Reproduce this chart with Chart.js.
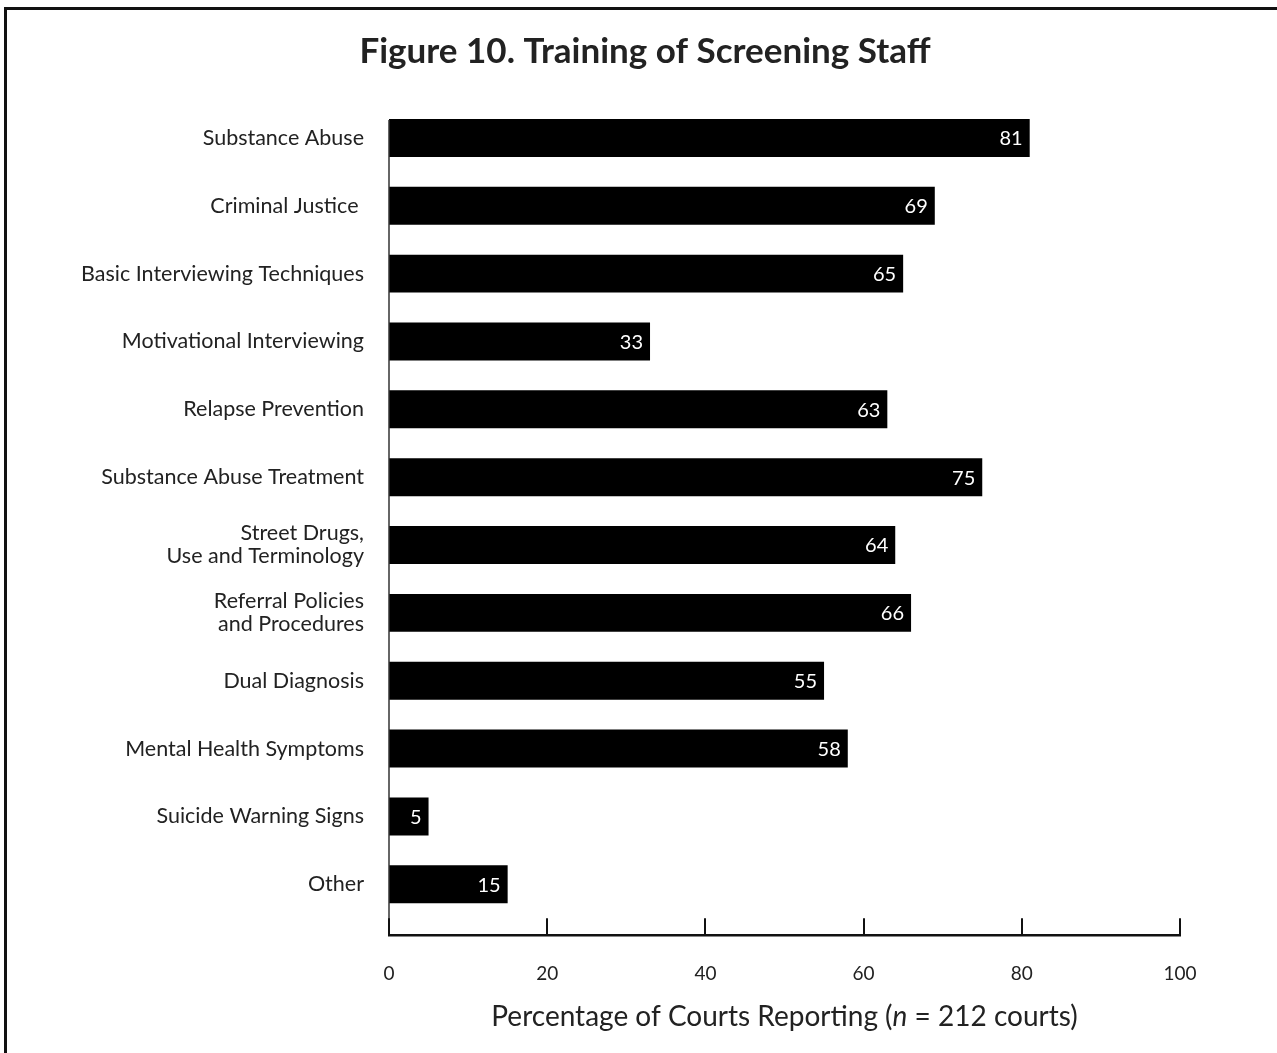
<!DOCTYPE html>
<html>
<head>
<meta charset="utf-8">
<script src="https://cdn.jsdelivr.net/npm/chart.js@4.4.1/dist/chart.umd.min.js"></script>
<style>
  body{margin:0;background:#fff;}
  #wrap{position:relative;width:1277px;height:1053px;overflow:hidden;}
  #frame{position:absolute;left:4px;top:7px;right:-10px;bottom:-10px;border-left:3px solid #111;border-top:3px solid #111;}
  canvas{position:absolute;left:0;top:0;}
</style>
</head>
<body>
<div id="wrap">
  <div id="frame"></div>
  <canvas id="chart" width="1277" height="1053"></canvas>
</div>
<script>
// Daten
const categories = [
  'Substance Abuse',
  'Criminal Justice ',
  'Basic Interviewing Techniques',
  'Motivational Interviewing',
  'Relapse Prevention',
  'Substance Abuse Treatment',
  ['Street Drugs,', 'Use and Terminology'],
  ['Referral Policies', 'and Procedures'],
  'Dual Diagnosis',
  'Mental Health Symptoms',
  'Suicide Warning Signs',
  'Other'
];
const percentValues = [81, 69, 65, 33, 63, 75, 64, 66, 55, 58, 5, 15];
const xTicks = [0, 20, 40, 60, 80, 100];
const titleText = 'Figure 10. Training of Screening Staff';

const FONT = 'Lato, "Open Sans", sans-serif';

// Titel, Achsen, Ticks und Werte selbst zeichnen
const extras = {
  id: 'extras',
  afterDatasetsDraw(chart){
    const {ctx, chartArea:a, scales:{x}} = chart;
    const axisY = a.bottom + 17;
    ctx.save();
    // Titel
    ctx.fillStyle = '#222';
    ctx.font = 'bold 35px ' + FONT;
    ctx.textAlign = 'center'; ctx.textBaseline = 'middle';
    ctx.fillText(titleText, 645, 52);
    // linke Achse
    ctx.strokeStyle = '#333'; ctx.lineWidth = 1.5;
    ctx.beginPath(); ctx.moveTo(x.getPixelForValue(0), a.top + 16); ctx.lineTo(x.getPixelForValue(0), axisY); ctx.stroke();
    // untere Achse
    ctx.strokeStyle = '#111'; ctx.lineWidth = 2.5;
    ctx.beginPath(); ctx.moveTo(x.getPixelForValue(0) - 1, axisY); ctx.lineTo(x.getPixelForValue(100) + 1, axisY); ctx.stroke();
    ctx.lineWidth = 2;
    xTicks.forEach(v => {
      const px = Math.round(x.getPixelForValue(v));
      ctx.beginPath(); ctx.moveTo(px, axisY); ctx.lineTo(px, axisY - 17); ctx.stroke();
    });
    // Werte in den Balken
    const meta = chart.getDatasetMeta(0);
    ctx.fillStyle = '#fff';
    ctx.font = '20px ' + FONT;
    ctx.textAlign = 'right'; ctx.textBaseline = 'middle';
    meta.data.forEach((bar, i) => {
      ctx.fillText(String(percentValues[i]), bar.x - 7, bar.y + 1);
    });
    // Achsentitel mit kursivem n
    const parts = [
      ['Percentage of Courts Reporting (', '400 28px ' + FONT],
      ['n', 'italic 400 28px ' + FONT],
      [' = 212 courts)', '400 28px ' + FONT]
    ];
    let total = 0;
    parts.forEach(p => { ctx.font = p[1]; total += ctx.measureText(p[0]).width; });
    let cx = (a.left + a.right) / 2 - total / 2;
    const cy = a.bottom + 99;
    ctx.fillStyle = '#222'; ctx.textAlign = 'left'; ctx.textBaseline = 'middle';
    parts.forEach(p => { ctx.font = p[1]; ctx.fillText(p[0], cx, cy); cx += ctx.measureText(p[0]).width; });
    ctx.restore();
  }
};

const chart = new Chart(document.getElementById('chart').getContext('2d'), {
  type: 'bar',
  data: {
    labels: categories,
    datasets: [{
      data: percentValues,
      backgroundColor: '#000',
      borderWidth: 0,
      categoryPercentage: 1,
      barPercentage: 0.56
    }]
  },
  options: {
    indexAxis: 'y',
    responsive: false,
    animation: false,
    devicePixelRatio: 1,
    layout: {padding: {left: 0, right: 97, top: 104, bottom: 24}},
    plugins: {
      legend: {display: false},
      tooltip: {enabled: false},
      title: {display: false}
    },
    scales: {
      x: {
        min: 0, max: 100,
        afterBuildTicks: s => { s.ticks = xTicks.map(v => ({value: v})); },
        grid: {display: false, drawTicks: false},
        border: {display: false},
        ticks: {color: '#222', padding: 44, font: {family: FONT, size: 19}}
      },
      y: {
        afterFit: s => { s.width = 389; },
        grid: {display: false, drawTicks: false},
        border: {display: false},
        ticks: {color: '#222', padding: 25, font: {family: FONT, size: 21.5, lineHeight: 1.07}}
      }
    }
  },
  plugins: [extras]
});
</script>
</body>
</html>
